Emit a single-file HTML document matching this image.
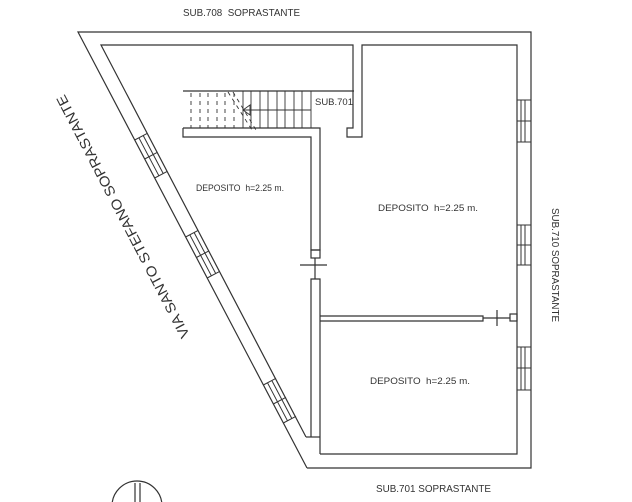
<!DOCTYPE html>
<html><head><meta charset="utf-8"><style>
html,body{margin:0;padding:0;background:#fff;overflow:hidden;width:632px;height:502px;}
svg{display:block;}
text{font-family:"Liberation Sans",sans-serif;fill:#333;white-space:pre;}
</style></head><body>
<svg width="632" height="502" viewBox="0 0 632 502" xmlns="http://www.w3.org/2000/svg" style="overflow:hidden">
<g fill="none" stroke="#333" stroke-width="1.2">
<polyline points="307,468 78,32 531,32 531,468 307,468"/>
<polyline points="306,437 101,45 353,45 353,128 347,128 347,137 362,137 362,45 517,45 517,454 320,454"/>
<line x1="306" y1="437" x2="320" y2="437"/>
<line x1="183" y1="91" x2="354" y2="91"/>
<polyline points="183,128 183,137 311,137 311,250 320,250 320,128 183,128"/>
<rect x="311" y="250" width="9" height="8"/>
<line x1="300" y1="265" x2="327" y2="265"/>
<line x1="315" y1="258" x2="315" y2="279"/>
<polyline points="311,437 311,279 320,279 320,454"/>
<polyline points="320,316 483,316 483,321 320,321"/>
<line x1="483" y1="318" x2="510" y2="318"/>
<line x1="497" y1="310" x2="497" y2="326"/>
<rect x="510" y="314" width="7" height="7"/>
<g stroke-width="1">
<rect x="517" y="100" width="14" height="42"/><line x1="521" y1="100" x2="521" y2="142"/><line x1="525" y1="100" x2="525" y2="142"/><line x1="517" y1="121" x2="531" y2="121"/>
<rect x="517" y="225" width="14" height="40"/><line x1="521" y1="225" x2="521" y2="265"/><line x1="525" y1="225" x2="525" y2="265"/><line x1="517" y1="245" x2="531" y2="245"/>
<rect x="517" y="347" width="14" height="43"/><line x1="521" y1="347" x2="521" y2="390"/><line x1="525" y1="347" x2="525" y2="390"/><line x1="517" y1="368" x2="531" y2="368"/>
</g>
<g stroke-width="1">
<line x1="138.9" y1="137.8" x2="158.9" y2="175.8"/><line x1="143.2" y1="135.5" x2="163.2" y2="173.5"/>
<line x1="134.7" y1="140" x2="147.4" y2="133.3"/><line x1="144.7" y1="159" x2="157.4" y2="152.3"/><line x1="154.7" y1="178" x2="167.4" y2="171.3"/>
<line x1="189.8" y1="234.8" x2="211.4" y2="275.8"/><line x1="194.1" y1="232.5" x2="215.7" y2="273.5"/>
<line x1="185.6" y1="237" x2="198.3" y2="230.3"/><line x1="196.4" y1="257.5" x2="209.1" y2="250.8"/><line x1="207.2" y1="278" x2="219.9" y2="271.3"/>
<line x1="267.5" y1="382.8" x2="287.5" y2="420.8"/><line x1="271.8" y1="380.5" x2="291.8" y2="418.5"/>
<line x1="263.3" y1="385" x2="276" y2="378.3"/><line x1="273.3" y1="404" x2="286" y2="397.3"/><line x1="283.3" y1="423" x2="296" y2="416.3"/>
</g>
<g stroke-width="0.9">
<line x1="243" y1="91" x2="243" y2="128"/><line x1="251" y1="91" x2="251" y2="128"/><line x1="260" y1="91" x2="260" y2="128"/><line x1="268" y1="91" x2="268" y2="128"/><line x1="277" y1="91" x2="277" y2="128"/><line x1="285" y1="91" x2="285" y2="128"/><line x1="294" y1="91" x2="294" y2="128"/><line x1="302" y1="91" x2="302" y2="128"/><line x1="311" y1="91" x2="311" y2="128"/>
<g stroke-dasharray="4,4"><line x1="191" y1="93" x2="191" y2="128"/><line x1="200" y1="93" x2="200" y2="128"/><line x1="208" y1="93" x2="208" y2="128"/><line x1="217" y1="93" x2="217" y2="128"/><line x1="225" y1="93" x2="225" y2="128"/><line x1="234" y1="93" x2="234" y2="128"/>
<line x1="228" y1="92" x2="252" y2="130"/><line x1="233" y1="92" x2="256" y2="130"/></g>
<line x1="243" y1="110" x2="311" y2="110"/>
<polygon points="243,110 250,105 250,115"/>
</g>
<circle cx="137" cy="506" r="25"/>
<line x1="135" y1="483" x2="135" y2="502"/><line x1="140" y1="483" x2="140" y2="502"/>
</g>
<text x="183" y="16" font-size="10" textLength="117" lengthAdjust="spacingAndGlyphs">SUB.708  SOPRASTANTE</text>
<text x="376" y="492" font-size="10" textLength="115" lengthAdjust="spacingAndGlyphs">SUB.701 SOPRASTANTE</text>
<text x="315" y="105" font-size="9.5" textLength="38" lengthAdjust="spacingAndGlyphs">SUB.701</text>
<text x="196" y="191" font-size="9.5" textLength="88" lengthAdjust="spacingAndGlyphs">DEPOSITO&#160;&#160;h=2.25 m.</text>
<text x="378" y="211" font-size="9.5" textLength="100" lengthAdjust="spacingAndGlyphs">DEPOSITO&#160;&#160;h=2.25 m.</text>
<text x="370" y="384" font-size="9.5" textLength="100" lengthAdjust="spacingAndGlyphs">DEPOSITO&#160;&#160;h=2.25 m.</text>
<text transform="translate(552,208) rotate(90)" font-size="10" textLength="114" lengthAdjust="spacingAndGlyphs">SUB.710 SOPRASTANTE</text>
<text transform="translate(190,335) rotate(-117.5)" font-size="14" textLength="272" lengthAdjust="spacingAndGlyphs">VIA SANTO STEFANO SOPRASTANTE</text>
</svg>
</body></html>
